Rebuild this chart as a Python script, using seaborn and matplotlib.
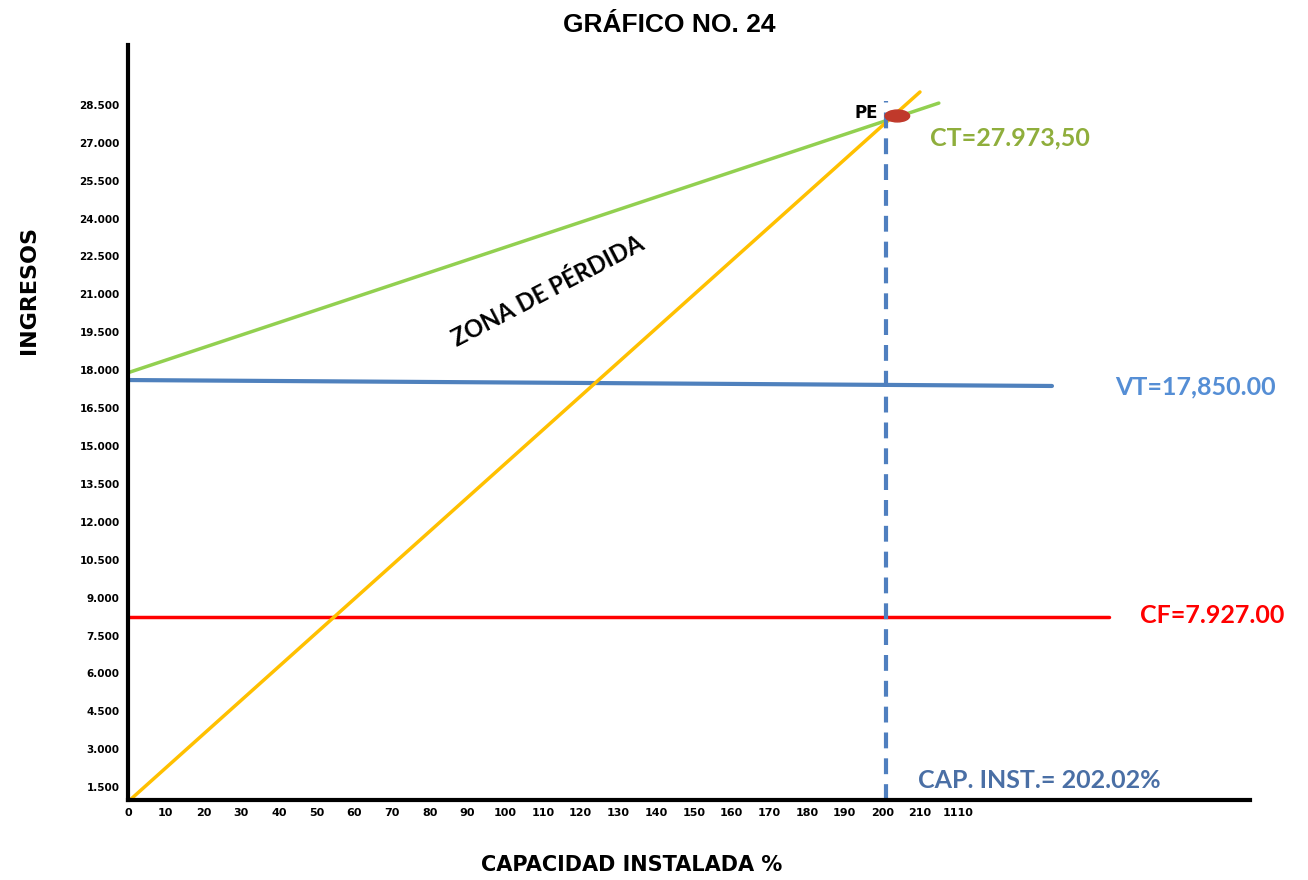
import numpy as np
import pandas as pd
import matplotlib
matplotlib.use("Agg")
import matplotlib.pyplot as plt
import seaborn as sns
from matplotlib.patches import Ellipse

# datos
cap_ct = [0, 215]
ct = [17900, 28570]
cap_ingresos = [0.5, 210]
ingresos = [990, 29010]
cap_vt = [0, 245]
vt = [17610, 17375]
cap_cf = [0, 260]
cf = [8230, 8230]
cap_pe = 201
pe_y = [990, 28650]
pe_punto = (204, 28060)

x_ticks = [0, 10, 20, 30, 40, 50, 60, 70, 80, 90, 100, 110, 120, 130, 140, 150,
           160, 170, 180, 190, 200, 210, 220]
x_labels = ["0", "10", "20", "30", "40", "50", "60", "70", "80", "90", "100", "110",
            "120", "130", "140", "150", "160", "170", "180", "190", "200", "210", "1110"]
y_ticks = [1500 * i for i in range(1, 20)]
y_labels = [f"{v/1000:.3f}" for v in y_ticks]

sns.set_style("white")
plt.rcParams['font.family'] = ['DejaVu Sans']
plt.rcParams['text.color'] = 'black'
plt.rcParams['xtick.color'] = 'black'
plt.rcParams['ytick.color'] = 'black'

fig = plt.figure(figsize=(13.08, 8.8), dpi=100)
ax = fig.add_axes([0.0979, 0.0909, 0.858, 0.858])

# lineas
sns.lineplot(x=cap_cf, y=cf, color="#ff0000", linewidth=2.5, ax=ax)
sns.lineplot(x=cap_vt, y=vt, color="#4f81bd", linewidth=3, ax=ax)
sns.lineplot(x=cap_ct, y=ct, color="#92d050", linewidth=2.5, ax=ax)
sns.lineplot(x=cap_ingresos, y=ingresos, color="#ffc000", linewidth=2.5, ax=ax)
ax.plot([cap_pe, cap_pe], pe_y, color="#4f7fbf", linewidth=3, dashes=(3.8, 2.4))

ax.add_patch(Ellipse(pe_punto, width=6.5, height=470, color="#c0392b", zorder=5))

ax.set_xlim(0, 297.6)
ax.set_ylim(990, 30870)
ax.set_xticks(x_ticks)
ax.set_xticklabels(x_labels, fontsize=8, fontweight="bold")
ax.set_yticks(y_ticks)
ax.set_yticklabels(y_labels, fontsize=7.5, fontweight="bold")
ax.tick_params(length=0, pad=6)

sns.despine(ax=ax)
for s in ["left", "bottom"]:
    ax.spines[s].set_linewidth(3)
    ax.spines[s].set_color("black")

# textos
ax.text(199, 28170, "PE", fontsize=12, fontweight="bold", ha="right", va="center")
ax.text(212.7, 27190, "CT=27.973,50", fontsize=18, fontweight="bold", color="#8fae3c",
        va="center", family="Lato")
ax.text(261.8, 17340, "VT=17,850.00", fontsize=18, fontweight="bold", color="#558ed5",
        va="center", family="Lato")
ax.text(268.4, 8290, "CF=7.927.00", fontsize=18, fontweight="bold", color="#ff0000",
        va="center", family="Lato")
ax.text(209.5, 1770, "CAP. INST.= 202.02%", fontsize=18, fontweight="bold", color="#4a6fa5",
        va="center", family="Lato")
ax.text(111.4, 21140, "ZONA DE PÉRDIDA", fontsize=17, fontweight="bold", rotation=27.5,
        ha="center", va="center", family="Lato")

fig.text(0.512, 0.972, "GRÁFICO NO. 24", fontsize=19, fontweight="bold",
         ha="center", va="center", family="Liberation Sans")
fig.text(0.022, 0.67, "INGRESOS", fontsize=16, fontweight="bold", rotation=90,
         ha="center", va="center")
fig.text(0.483, 0.017, "CAPACIDAD INSTALADA %", fontsize=15, fontweight="bold",
         ha="center", va="center")

fig.savefig("out.png", dpi=100)
